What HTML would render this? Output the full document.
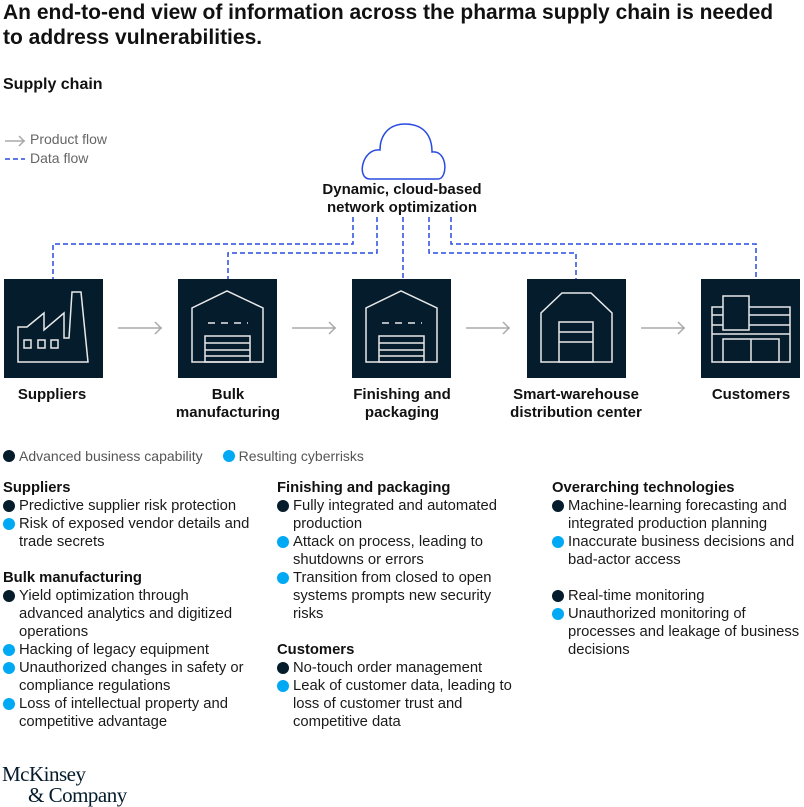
<!DOCTYPE html>
<html><head><meta charset="utf-8"><style>
*{margin:0;padding:0;box-sizing:border-box}
body{width:804px;height:807px;background:#fff;position:relative;font-family:"Liberation Sans",Arial,sans-serif;color:#1a1a1a;overflow:hidden}
.a{position:absolute;white-space:nowrap}
.t{font-size:21px;font-weight:bold;line-height:25px;left:3px;color:#111}
.lab{font-size:15px;font-weight:bold;text-align:center;line-height:18px;color:#111}
.col{position:absolute;font-size:14.8px;line-height:18px;width:260px}
.col h4{font-size:14.8px;font-weight:bold;line-height:18px;color:#111}
.li{position:relative;padding-left:16px}
.li:before{content:"";position:absolute;left:0;top:3px;width:12px;height:12px;border-radius:50%;background:#051c2c}
.li.c:before{background:#00a9f4}
.sp{height:18px}
</style></head><body>
<div class="a t" style="top:0">An end-to-end view of information across the pharma supply chain is needed</div>
<div class="a t" style="top:25px">to address vulnerabilities.</div>
<div class="a" style="top:76px;left:3px;font-size:16px;font-weight:bold;color:#111">Supply chain</div>
<div class="a" style="top:131px;left:30px;font-size:14px;color:#666">Product flow</div>
<div class="a" style="top:150px;left:30px;font-size:14px;color:#666">Data flow</div>
<svg class="a" style="left:0;top:0" width="804" height="440">
<g stroke="#aaa" stroke-width="1.5" fill="none">
<path d="M5 141H25M19 136l5 5-5 5"/>
<path d="M118 328H162M155 322l6 6-6 6"/>
<path d="M292 328H336M329 322l6 6-6 6"/>
<path d="M466 328H510M503 322l6 6-6 6"/>
<path d="M641 328H685M678 322l6 6-6 6"/>
</g>
<g stroke="#2a4be0" stroke-width="1.5" fill="none" stroke-dasharray="5 3">
<path d="M5 159H25"/>
<path d="M353 217V244H53V279"/>
<path d="M377 217V253H228V279"/>
<path d="M403 217V279"/>
<path d="M429 217V253H576V279"/>
<path d="M451 217V244H756V279"/>
</g>
<path d="M370 179H438C448 179 448 150 432 152C432 136 424 124 405 124C388 124 380 136 380 150C362 148 356 179 370 179Z" fill="none" stroke="#2a4be0" stroke-width="1.5"/>
<g fill="#051c2c">
<rect x="4" y="279" width="99" height="99"/><rect x="178" y="279" width="99" height="99"/><rect x="352" y="279" width="99" height="99"/><rect x="527" y="279" width="99" height="99"/><rect x="701" y="279" width="99" height="99"/>
</g>
<g stroke="#e8e8e8" stroke-width="1.5" fill="none">
<g transform="translate(4,279)"><path d="M14 83V48H23L40 34V51L60 34V59H65L68 13H77L84 83Z"/><rect x="20" y="61" width="7" height="8"/><rect x="34" y="61" width="7" height="8"/><rect x="47" y="61" width="7" height="8"/></g>
<g transform="translate(178,279)"><path d="M14 83V29L49 12L85 29V83Z"/><path d="M30 44H70" stroke-dasharray="7 6"/><rect x="27" y="57" width="45" height="26"/><path d="M27 64H72M27 71H72M27 77H72"/></g>
<g transform="translate(352,279)"><path d="M14 83V29L49 12L85 29V83Z"/><path d="M30 44H70" stroke-dasharray="7 6"/><rect x="27" y="57" width="45" height="26"/><path d="M27 64H72M27 71H72M27 77H72"/></g>
<g transform="translate(527,279)"><path d="M14 83V34L35 14H64L85 34V83Z"/><rect x="32" y="43" width="34" height="40"/><path d="M32 53H66M32 63H66"/></g>
<g transform="translate(701,279)"><rect x="11" y="28" width="78" height="55"/><path d="M11 36H89M11 46H89M11 55H89"/><rect x="22" y="17" width="26" height="34" fill="#051c2c"/><rect x="22" y="60" width="56" height="23"/><path d="M50 60V83"/></g>
</g>
</svg>
<div class="a lab" style="left:300px;width:204px;top:181px">Dynamic, cloud-based<br>network optimization</div>
<div class="a lab" style="left:0;width:104px;top:386px">Suppliers</div>
<div class="a lab" style="left:168px;width:120px;top:386px">Bulk<br>manufacturing</div>
<div class="a lab" style="left:342px;width:120px;top:386px">Finishing and<br>packaging</div>
<div class="a lab" style="left:496px;width:160px;top:386px">Smart-warehouse<br>distribution center</div>
<div class="a lab" style="left:690px;width:122px;top:386px">Customers</div>
<div class="col" style="left:3px;top:447px;width:500px;color:#555;font-size:14px"><span class="li" style="display:inline-block">Advanced business capability</span><span class="li c" style="display:inline-block;margin-left:20px">Resulting cyberrisks</span></div>
<div class="col" style="left:3px;top:479px">
<h4>Suppliers</h4>
<div class="li">Predictive supplier risk protection</div>
<div class="li c">Risk of exposed vendor details and<br>trade secrets</div>
<div class="sp"></div>
<h4>Bulk manufacturing</h4>
<div class="li">Yield optimization through<br>advanced analytics and digitized<br>operations</div>
<div class="li c">Hacking of legacy equipment</div>
<div class="li c">Unauthorized changes in safety or<br>compliance regulations</div>
<div class="li c">Loss of intellectual property and<br>competitive advantage</div>
</div>
<div class="col" style="left:277px;top:479px">
<h4>Finishing and packaging</h4>
<div class="li">Fully integrated and automated<br>production</div>
<div class="li c">Attack on process, leading to<br>shutdowns or errors</div>
<div class="li c">Transition from closed to open<br>systems prompts new security<br>risks</div>
<div class="sp"></div>
<h4>Customers</h4>
<div class="li">No-touch order management</div>
<div class="li c">Leak of customer data, leading to<br>loss of customer trust and<br>competitive data</div>
</div>
<div class="col" style="left:552px;top:479px">
<h4>Overarching technologies</h4>
<div class="li">Machine-learning forecasting and<br>integrated production planning</div>
<div class="li c">Inaccurate business decisions and<br>bad-actor access</div>
<div class="sp"></div>
<div class="li">Real-time monitoring</div>
<div class="li c">Unauthorized monitoring of<br>processes and leakage of business<br>decisions</div>
</div>
<div class="a" style="left:2px;top:764px;font-family:'Liberation Serif',serif;font-size:21px;line-height:21px;color:#051c2c;letter-spacing:-0.5px">McKinsey<br><span style="padding-left:26px">&amp; Company</span></div>
</body></html>
